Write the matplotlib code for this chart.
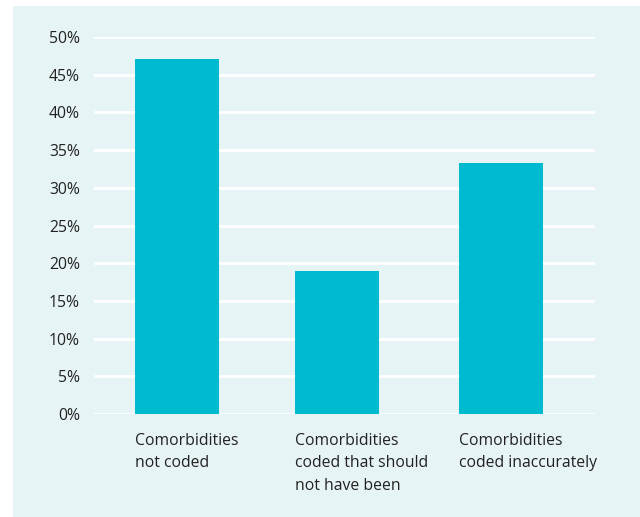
import matplotlib.pyplot as plt
from matplotlib.patches import Rectangle

categories = ['Comorbidities\nnot coded',
              'Comorbidities\ncoded that should\nnot have been',
              'Comorbidities\ncoded inaccurately']
values = [47.1, 18.9, 33.3]
yticks = [0, 5, 10, 15, 20, 25, 30, 35, 40, 45, 50]

plt.rcParams['font.family'] = ['Open Sans', 'DejaVu Sans']

W, H = 640, 517
fig = plt.figure(figsize=(W / 100, H / 100), dpi=100, facecolor='white')

# light panel behind the chart
fig.patches.append(Rectangle((13 / W, 0), 1 - 13 / W, (H - 6) / H,
                             transform=fig.transFigure, facecolor='#e7f4f6',
                             edgecolor='none', zorder=-1))

ax = fig.add_axes([94 / W, 1 - 414 / H, (595 - 94) / W, (414 - 37) / H])
ax.set_facecolor('none')

pos = [0, 0.99, 2]
ax.bar(pos, values, width=0.52, color='#00bbcf', zorder=3)

for t in yticks:
    ax.axhline(t, color='white', lw=2, zorder=1)

ax.set_xlim(-0.512, 2.58)
ax.set_ylim(0, 50)
ax.set_yticks(yticks)
ax.set_yticklabels([f'{t}%' for t in yticks], fontsize=11.3, color='#222222')
ax.tick_params(axis='y', length=0, pad=10)
ax.set_xticks([])
for s in ax.spines.values():
    s.set_visible(False)

for p, lab in zip(pos, categories):
    ax.text(p - 0.26, -2.5, lab, ha='left', va='top', fontsize=11.3,
            color='#222222', linespacing=1.55)

plt.savefig('out.png', dpi=100, facecolor='white')
